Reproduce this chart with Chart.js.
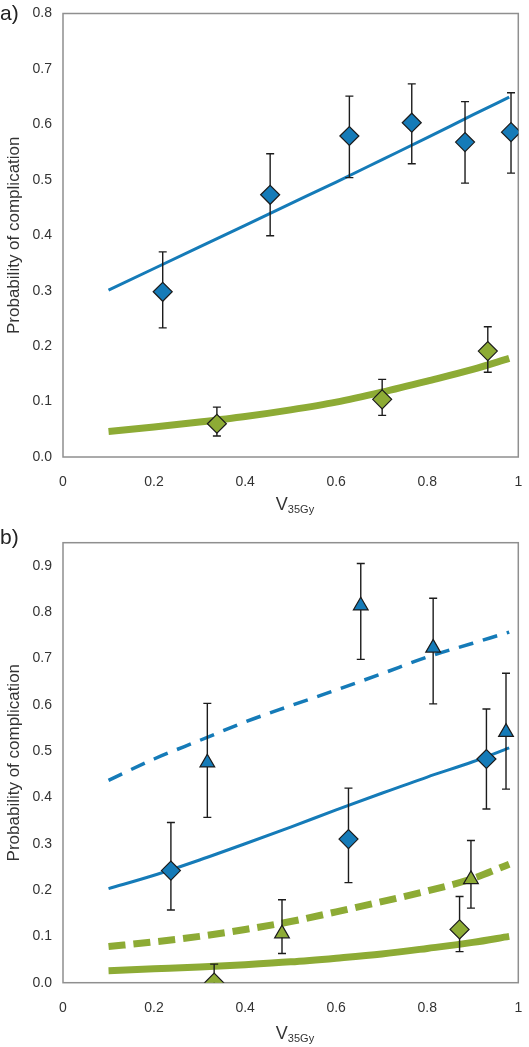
<!DOCTYPE html>
<html>
<head>
<meta charset="utf-8">
<script src="https://cdn.jsdelivr.net/npm/chart.js@4/dist/chart.umd.min.js"></script>
<style>
  html, body { margin: 0; padding: 0; overflow: hidden; background: #fff; font-family: "Liberation Sans", Arial, sans-serif; }
  #wrap { position: relative; width: 529px; height: 1047px; overflow: hidden; }
  canvas { position: absolute; left: 0; }
  .tag { position: absolute; left: 0; font-size: 21px; color: #222; }
  .xt { position: absolute; left: 0; width: 590px; text-align: center; font-size: 18px; color: #333; }
  .xt sub { font-size: 11px; vertical-align: -3px; }
</style>
</head>
<body>
<div id="wrap">
  <canvas id="chartA" width="529" height="515" style="top:0"></canvas>
  <canvas id="chartB" width="529" height="532" style="top:515px"></canvas>
  <div class="tag" style="top:1px">a)</div>
  <div class="tag" style="top:525px">b)</div>
  <div class="xt" style="top:494px">V<sub>35Gy</sub></div>
  <div class="xt" style="top:1023px">V<sub>35Gy</sub></div>
</div>
<script>
// fitted curves (x positions shared)
const fitX = [0.1, 0.2, 0.3, 0.4, 0.5, 0.6, 0.7, 0.8, 0.9, 0.98];
const aBlueFit  = [0.301, 0.340, 0.379, 0.418, 0.457, 0.496, 0.536, 0.576, 0.617, 0.649];
const aGreenFit = [0.046, 0.054, 0.063, 0.073, 0.085, 0.099, 0.117, 0.137, 0.158, 0.178];
const bBlueFit  = [0.203, 0.232, 0.265, 0.300, 0.336, 0.373, 0.409, 0.444, 0.477, 0.507];
const bBlueDash = [0.437, 0.483, 0.523, 0.563, 0.598, 0.632, 0.667, 0.703, 0.733, 0.757];
const bGreenFit = [0.026, 0.030, 0.034, 0.039, 0.045, 0.053, 0.062, 0.074, 0.087, 0.100];
const bGreenDash = [0.078, 0.088, 0.100, 0.115, 0.132, 0.153, 0.175, 0.198, 0.225, 0.256];

// panel a observed points
const aBlueX  = [0.219, 0.455, 0.629, 0.766, 0.883, 0.984];
const aBlueY  = [0.298, 0.473, 0.579, 0.603, 0.568, 0.586];
const aBlueLo = [0.233, 0.399, 0.504, 0.529, 0.494, 0.512];
const aBlueHi = [0.370, 0.547, 0.651, 0.673, 0.641, 0.657];
const aGreenX  = [0.338, 0.701, 0.933];
const aGreenY  = [0.060, 0.104, 0.191];
const aGreenLo = [0.038, 0.075, 0.153];
const aGreenHi = [0.090, 0.140, 0.235];

// panel b observed points
const bBlueDX  = [0.237, 0.627, 0.930];
const bBlueDY  = [0.242, 0.310, 0.483];
const bBlueDLo = [0.157, 0.216, 0.375];
const bBlueDHi = [0.346, 0.420, 0.591];
const bBlueTX  = [0.317, 0.654, 0.813, 0.973];
const bBlueTY  = [0.475, 0.814, 0.723, 0.541];
const bBlueTLo = [0.357, 0.698, 0.602, 0.418];
const bBlueTHi = [0.603, 0.905, 0.830, 0.668];
const bGreenDX  = [0.332, 0.871];
const bGreenDY  = [0.000, 0.115];
const bGreenDLo = [0.000, 0.067];
const bGreenDHi = [0.040, 0.186];
const bGreenTX  = [0.481, 0.896];
const bGreenTY  = [0.106, 0.223];
const bGreenTLo = [0.063, 0.161];
const bGreenTHi = [0.179, 0.307];

const xTicks = [0, 0.2, 0.4, 0.6, 0.8, 1];

const BLUE = "#157bb8";
const GREEN = "#8dab35";
const INK = "#1c1c1c";

function pts(xs, ys) {
  return xs.map((x, i) => ({ x: x, y: ys[i] }));
}

function markers(xs, ys, lo, hi, color, style, r) {
  return {
    type: "scatter",
    data: pts(xs, ys),
    errLo: lo,
    errHi: hi,
    pointStyle: style,
    pointRadius: r,
    pointHoverRadius: r,
    backgroundColor: color,
    borderColor: INK,
    pointBorderWidth: 1.2,
  };
}

function curve(ys, color, width, dash) {
  return {
    type: "scatter",
    data: pts(fitX, ys),
    showLine: true,
    borderColor: color,
    borderWidth: width,
    borderDash: dash || [],
    pointRadius: 0,
    pointHoverRadius: 0,
    cubicInterpolationMode: "monotone",
    fill: false,
  };
}

// error bars under each marker set + grey frame
const errorBars = {
  id: "errorBars",
  beforeDatasetDraw(chart, args) {
    const ds = chart.data.datasets[args.index];
    if (!ds.errLo) return;
    const { ctx, scales: { x, y } } = chart;
    ctx.save();
    ctx.strokeStyle = INK;
    ctx.lineWidth = 1.4;
    ds.data.forEach((p, i) => {
      const px = x.getPixelForValue(p.x);
      const yt = y.getPixelForValue(ds.errHi[i]);
      const yb = y.getPixelForValue(ds.errLo[i]);
      ctx.beginPath();
      ctx.moveTo(px, yt); ctx.lineTo(px, yb);
      ctx.moveTo(px - 4, yt); ctx.lineTo(px + 4, yt);
      if (ds.errLo[i] > 0) { ctx.moveTo(px - 4, yb); ctx.lineTo(px + 4, yb); }
      ctx.stroke();
    });
    ctx.restore();
  },
  beforeDatasetsDraw(chart) {
    const { ctx, chartArea: a } = chart;
    ctx.save();
    ctx.strokeStyle = "#8f8f8f";
    ctx.lineWidth = 1.5;
    ctx.strokeRect(a.left, a.top, a.right - a.left, a.bottom - a.top);
    ctx.restore();
  },
};

function makeOptions(yMax, padTop, xHeight) {
  return {
    responsive: false,
    animation: false,
    devicePixelRatio: 1,
    layout: { padding: { top: padTop, right: 9, left: 0, bottom: 0 } },
    plugins: { legend: { display: false }, tooltip: { enabled: false } },
    scales: {
      x: {
        type: "linear",
        min: 0,
        max: 1,
        afterFit: (s) => { s.height = xHeight; },
        afterBuildTicks: (s) => { s.ticks = xTicks.map((v) => ({ value: v })); },
        grid: { display: true, color: "transparent", drawTicks: true, tickLength: 17, tickColor: "transparent" },
        border: { display: false },
        ticks: {
          padding: 0,
          color: "#333",
          font: { family: "Liberation Sans", size: 14 },
          callback: (v) => String(v),
        },
      },
      y: {
        min: 0,
        max: yMax,
        afterFit: (s) => { s.width = 63; },
        grid: { display: true, color: "transparent", drawTicks: true, tickLength: 11, tickColor: "transparent" },
        border: { display: false },
        ticks: {
          stepSize: 0.1,
          includeBounds: false,
          padding: 0,
          color: "#333",
          font: { family: "Liberation Sans", size: 14 },
          callback: (v) => v.toFixed(1),
        },
        title: {
          display: true,
          text: "Probability of complication",
          color: "#333",
          font: { family: "Liberation Sans", size: 17 },
          padding: { top: 4, bottom: 0 },
        },
      },
    },
  };
}

new Chart(document.getElementById("chartA"), {
  type: "scatter",
  data: {
    datasets: [
      markers(aBlueX, aBlueY, aBlueLo, aBlueHi, BLUE, "rectRot", 9.5),
      markers(aGreenX, aGreenY, aGreenLo, aGreenHi, GREEN, "rectRot", 9.5),
      curve(aBlueFit, BLUE, 3),
      curve(aGreenFit, GREEN, 7),
    ],
  },
  options: makeOptions(0.8, 13.5, 58),
  plugins: [errorBars],
});

new Chart(document.getElementById("chartB"), {
  type: "scatter",
  data: {
    datasets: [
      markers(bBlueDX, bBlueDY, bBlueDLo, bBlueDHi, BLUE, "rectRot", 9.5),
      markers(bBlueTX, bBlueTY, bBlueTLo, bBlueTHi, BLUE, "triangle", 8.5),
      markers(bGreenDX, bGreenDY, bGreenDLo, bGreenDHi, GREEN, "rectRot", 9.5),
      markers(bGreenTX, bGreenTY, bGreenTLo, bGreenTHi, GREEN, "triangle", 8.5),
      curve(bBlueFit, BLUE, 3),
      curve(bBlueDash, BLUE, 3.5, [15, 10]),
      curve(bGreenFit, GREEN, 7),
      curve(bGreenDash, GREEN, 7, [17, 8]),
    ],
  },
  options: makeOptions(0.95, 27.7, 64.3),
  plugins: [errorBars],
});
</script>
</body>
</html>
